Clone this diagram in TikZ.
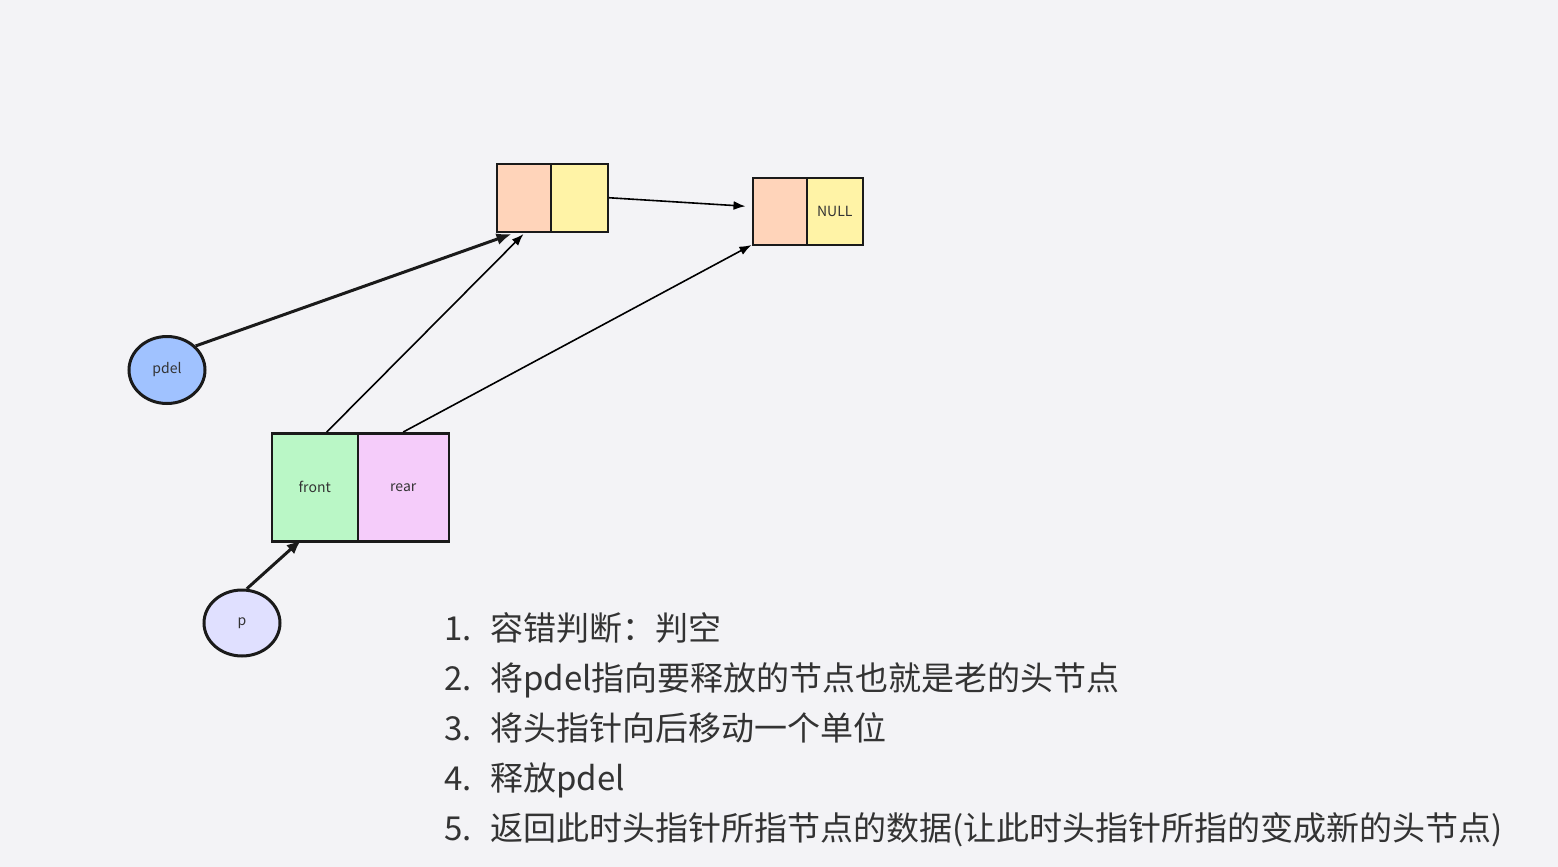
\documentclass[tikz,border=0pt]{standalone}
\usepackage{fontspec}
\newfontfamily\cjk{Noto Sans CJK SC}
\usetikzlibrary{arrows.meta,shapes.geometric,calc}
\definecolor{bgc}{HTML}{F3F3F6}
\definecolor{peach}{HTML}{FFD4BA}
\definecolor{lemon}{HTML}{FFF3A6}
\definecolor{mint}{HTML}{BAF7C6}
\definecolor{lilac}{HTML}{F5CCFA}
\definecolor{skyb}{HTML}{A0C2FF}
\definecolor{pale}{HTML}{E0E0FF}
\definecolor{ink}{HTML}{1A1A1A}
\definecolor{txt}{HTML}{333333}
\tikzset{
  cell/.style={draw=ink,line width=2.5pt,inner sep=0pt,anchor=north west,font=\cjk\fontsize{14}{16}\selectfont,text=txt},
  ptr/.style={ellipse,draw=ink,line width=3pt,inner sep=0pt,font=\cjk\fontsize{14}{16}\selectfont,text=txt},
  thinarrow/.style={draw=black,line width=1.6pt,-{Latex[length=12pt,width=9pt]}},
  thickarrow/.style={draw=ink,line width=3pt,-{Latex[length=15pt,width=12pt]}},
  listnum/.style={anchor=base west,inner sep=0pt,font=\cjk\fontsize{33}{37}\selectfont,text=txt},
}
\begin{document}
\begin{tikzpicture}[x=1pt,y=-1pt]
\fill[bgc] (0,0) rectangle (1558,867);
\useasboundingbox (0,0) rectangle (1558,867);
% top node
\node[cell,fill=peach,minimum width=54pt,minimum height=68pt] (aL) at (495.5,162.5) {};
\node[cell,fill=lemon,minimum width=57pt,minimum height=68pt] (aR) at (549.5,162.5) {};
% NULL node
\node[cell,fill=peach,minimum width=54pt,minimum height=67pt] (bL) at (751.5,176.5) {};
\node[cell,fill=lemon,minimum width=56pt,minimum height=67pt] (bR) at (805.5,176.5) {NULL};
% queue struct
\node[cell,fill=mint,minimum width=86pt,minimum height=108pt] (fr) at (270.5,432) {front};
\node[cell,fill=lilac,minimum width=91pt,minimum height=108pt] (rr) at (356.5,432) {rear};
% pointers
\node[ptr,fill=skyb,minimum width=76pt,minimum height=67pt] (pdel) at (167,370) {pdel};
\node[ptr,fill=pale,minimum width=76pt,minimum height=66pt] (p) at (242,623) {p};
% connectors
\draw[thinarrow] (aR.east) -- ($(bL.west)+(-6,-5)$);
\draw[thickarrow] (pdel.40) -- ($(aL.south west)+(16,1)$);
\draw[thinarrow] ($(fr.north)+(12,0)$) -- ($(aL.south west)+(28,1)$);
\draw[thinarrow] (rr.north) -- ($(bL.south west)+(0,-1)$);
\draw[thickarrow] (p.82) -- ($(fr.south west)+(31,-3)$);
% list
\node[listnum] (n1) at (444,640) {1.};
\node[listnum] (t1) at (490,640) {容错判断：判空};
\node[listnum] (n2) at (444,690) {2.};
\node[listnum] (t2) at (490,690) {将pdel指向要释放的节点也就是老的头节点};
\node[listnum] (n3) at (444,740) {3.};
\node[listnum] (t3) at (490,740) {将头指针向后移动一个单位};
\node[listnum] (n4) at (444,790) {4.};
\node[listnum] (t4) at (490,790) {释放pdel};
\node[listnum] (n5) at (444,840) {5.};
\node[listnum] (t5) at (490,840) {返回此时头指针所指节点的数据(让此时头指针所指的变成新的头节点)};
\end{tikzpicture}
\end{document}
